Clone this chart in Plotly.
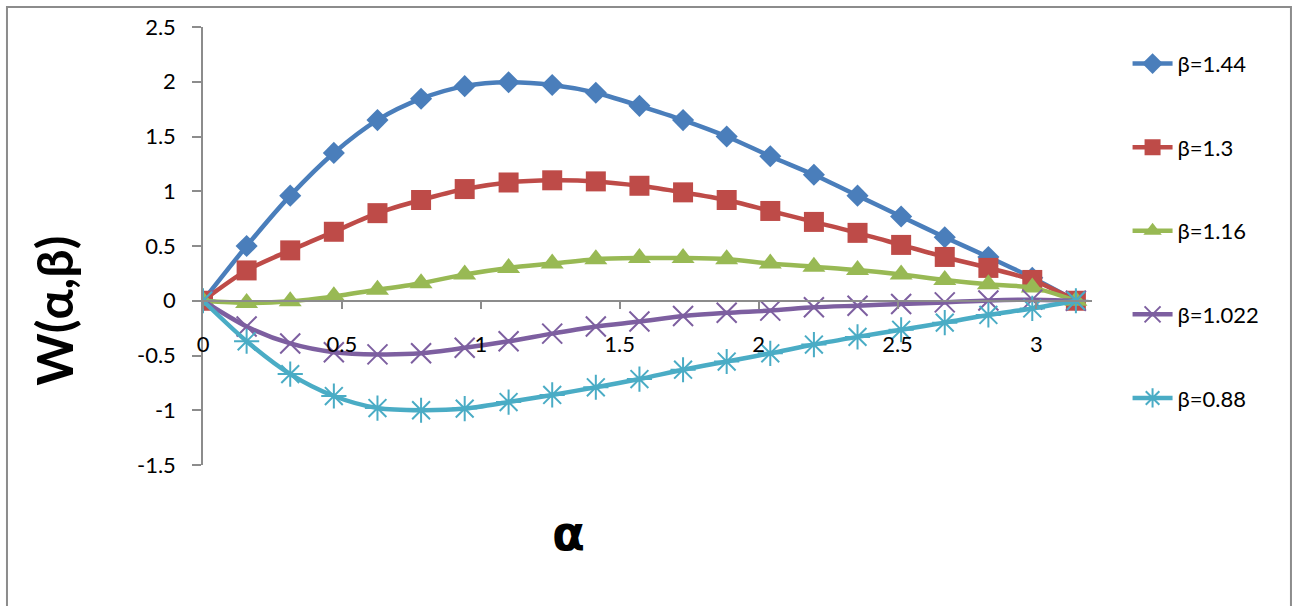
import plotly.graph_objects as go

alpha = [0, 0.157, 0.314, 0.471, 0.628, 0.785, 0.942, 1.100, 1.257, 1.414, 1.571,
         1.728, 1.885, 2.042, 2.199, 2.356, 2.513, 2.670, 2.827, 2.985, 3.142]

w_144 = [0, 0.50, 0.96, 1.35, 1.65, 1.845, 1.96, 1.995, 1.97, 1.90, 1.78,
         1.65, 1.50, 1.32, 1.15, 0.96, 0.77, 0.58, 0.40, 0.21, 0]
w_130 = [0, 0.277, 0.46, 0.63, 0.80, 0.92, 1.02, 1.08, 1.10, 1.09, 1.05,
         0.99, 0.92, 0.82, 0.72, 0.62, 0.51, 0.40, 0.30, 0.19, 0]
w_116 = [0, -0.02, -0.005, 0.04, 0.10, 0.16, 0.24, 0.30, 0.34, 0.38, 0.39,
         0.39, 0.38, 0.34, 0.31, 0.28, 0.24, 0.19, 0.15, 0.12, 0]
w_1022 = [0, -0.235, -0.39, -0.47, -0.49, -0.48, -0.43, -0.37, -0.30, -0.235, -0.19,
          -0.14, -0.11, -0.09, -0.06, -0.045, -0.03, -0.015, 0.003, 0.01, 0]
w_088 = [0, -0.37, -0.67, -0.87, -0.98, -1.00, -0.985, -0.925, -0.86, -0.79, -0.715,
         -0.63, -0.555, -0.48, -0.40, -0.33, -0.265, -0.20, -0.13, -0.07, 0]

names = ["β=1.44", "β=1.3", "β=1.16", "β=1.022", "β=0.88"]
series = [w_144, w_130, w_116, w_1022, w_088]
colors = ["#4A7EBB", "#BE4B48", "#98B954", "#7D5FA0", "#4AACC5"]
symbols = ["diamond", "square", "triangle-up", "x-thin-open", "asterisk-open"]
sizes = [17, 20, 20, 20, 21]

x_ticks = [0, 0.5, 1, 1.5, 2, 2.5, 3]
y_ticks = [-1.5, -1, -0.5, 0, 0.5, 1, 1.5, 2, 2.5]

FONT = "Lato, Carlito, 'Liberation Sans', sans-serif"

fig = go.Figure()
for name, ys, col, sym, sz in zip(names, series, colors, symbols, sizes):
    open_sym = sym.endswith("open")
    fig.add_trace(go.Scatter(
        x=alpha, y=ys, name=name, mode="lines+markers",
        legendgroup=name,
        line=dict(color=col, width=4.5, shape="spline", smoothing=0.8),
        marker=dict(symbol=sym, size=sz, color=col,
                    line=dict(color=col, width=2 if open_sym else 0)),
    ))

fig.update_layout(
    width=1295, height=606,
    margin=dict(l=203, r=203, t=27, b=141),
    paper_bgcolor="white", plot_bgcolor="white",
    font=dict(family=FONT, color="black", size=22),
    showlegend=True,
    legend=dict(x=1.04, y=0.964, xanchor="left", yanchor="top",
                font=dict(size=22, family=FONT), tracegroupgap=52,
                bgcolor="rgba(0,0,0,0)", itemwidth=40),
    xaxis=dict(range=[0, 3.2], tickvals=x_ticks, ticktext=[f"{t:g}" for t in x_ticks],
               showgrid=False, zeroline=False, showline=True, linecolor="#8C8C8C",
               linewidth=1.5, ticks="outside", ticklen=7, tickcolor="#8C8C8C",
               tickwidth=1.5, anchor="free", position=0.375,
               ticklabelstandoff=17, tickfont=dict(size=22)),
    yaxis=dict(range=[-1.5, 2.5], tickvals=y_ticks, ticktext=[f"{t:g}" for t in y_ticks],
               showgrid=False, zeroline=False, showline=True, linecolor="#8C8C8C",
               linewidth=1.5, ticks="outside", ticklen=9, tickcolor="#8C8C8C",
               tickwidth=1.5, ticklabelstandoff=12, tickfont=dict(size=22)),
)

# outer chart frame
fig.add_shape(type="rect", xref="paper", yref="paper",
              x0=-0.2205, x1=1.2238, y0=-0.5, y1=1.0457,
              line=dict(color="#8C8C8C", width=2), fillcolor="rgba(0,0,0,0)", layer="below")

# axis titles
fig.add_annotation(text="<b>W(α,β)</b>", xref="paper", yref="paper",
                   x=-0.1676, y=0.352, xanchor="center", yanchor="middle",
                   textangle=-90, showarrow=False,
                   font=dict(size=50, family=FONT, color="black"))
fig.add_annotation(text="<b>α</b>", xref="paper", yref="paper",
                   x=0.411, y=-0.155, xanchor="center", yanchor="middle",
                   showarrow=False,
                   font=dict(size=48, family="DejaVu Sans", color="black"))

fig.write_html("out.html", config={"displayModeBar": False},
               post_script="document.body.style.margin='0';document.body.style.overflow='hidden';")
